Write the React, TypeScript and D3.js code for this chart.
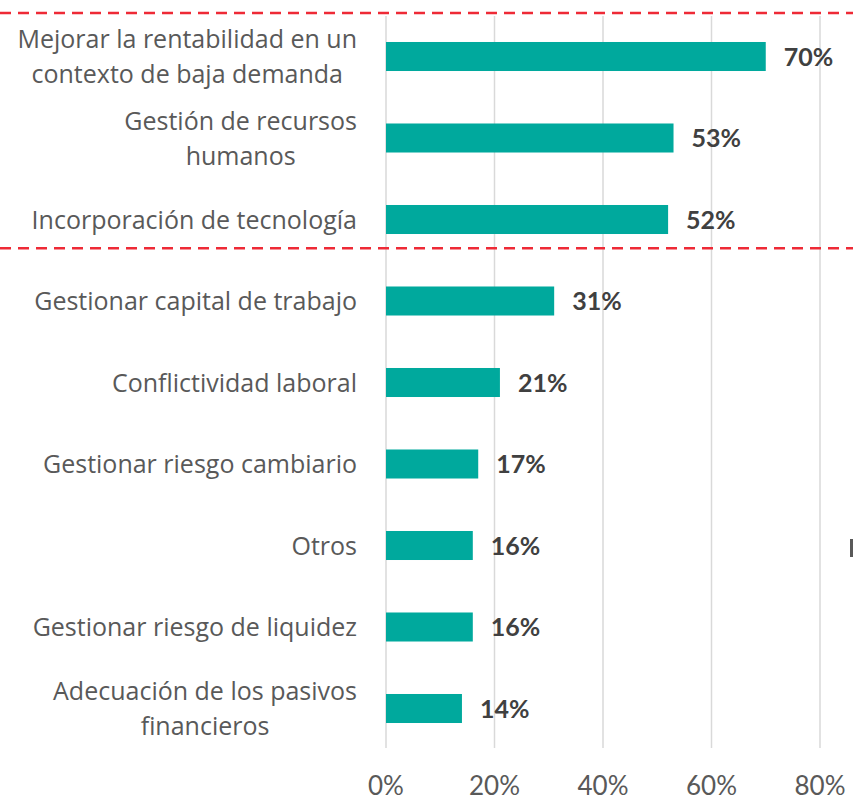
import React from 'react';
import * as d3 from 'd3';

// categories, split into the lines they are drawn on
const categories = [
  ['Mejorar la rentabilidad en un', 'contexto de baja demanda'],
  ['Gestión de recursos', 'humanos'],
  ['Incorporación de tecnología'],
  ['Gestionar capital de trabajo'],
  ['Conflictividad laboral'],
  ['Gestionar riesgo cambiario'],
  ['Otros'],
  ['Gestionar riesgo de liquidez'],
  ['Adecuación de los pasivos', 'financieros'],
];
const values = [0.7, 0.53, 0.52, 0.31, 0.21, 0.17, 0.16, 0.16, 0.14];
const ticks = [0, 0.2, 0.4, 0.6, 0.8];
// red separators sit between these category indexes
const separatorsAfter = [-1, 2];

const W = 853;
const H = 802;
const FONT = 'Lato, "Open Sans", sans-serif';
const LABEL_FONT = '"Open Sans", Lato, sans-serif';
const LABEL_SIZE = 25;

// width of a label line, so wrapped labels can be centred inside their right-aligned block
let ctx: CanvasRenderingContext2D | null = null;
const textWidth = (s: string) => {
  if (!ctx) ctx = document.createElement('canvas').getContext('2d');
  if (!ctx) return s.length * LABEL_SIZE * 0.5;
  ctx.font = `${LABEL_SIZE}px "Open Sans"`;
  return ctx.measureText(s).width;
};

export default function App() {
  const keys = categories.map((c) => c.join(' '));

  const x = d3.scaleLinear().domain([0, 0.8]).range([386, 820]);
  const y = d3
    .scaleBand<string>()
    .domain(keys)
    .range([15.75, 749.25])
    .paddingInner(0.644)
    .paddingOuter(0.322);

  const pct = d3.format('.0%');
  const lineH = 35;
  const labelRight = 357;

  const sepY = (i: number) => {
    if (i < 0) return 13;
    const a = y(keys[i])! + y.bandwidth();
    const b = y(keys[i + 1])!;
    return (a + b) / 2 - 12;
  };

  return (
    <svg width={W} height={H} style={{ position: 'absolute', left: 0, top: 0, background: '#fff' }}>
      {/* gridlines */}
      {ticks.map((t) => (
        <line key={t} x1={x(t)} x2={x(t)} y1={16} y2={748} stroke="#d9d9d9" strokeWidth={1.5} />
      ))}

      {/* bars */}
      {values.map((v, i) => (
        <rect key={keys[i]} x={x(0)} y={y(keys[i])} width={x(v) - x(0)} height={y.bandwidth()} fill="#00a99d" />
      ))}

      {/* value labels */}
      {values.map((v, i) => (
        <text
          key={'v' + i}
          x={x(v) + 18}
          y={y(keys[i])! + y.bandwidth() / 2}
          dy="0.36em"
          fontFamily={FONT}
          fontWeight="bold"
          fontSize={25}
          fill="#404040"
        >
          {pct(v)}
        </text>
      ))}

      {/* category labels */}
      {categories.map((lines, i) => {
        const cy = y(keys[i])! + y.bandwidth() / 2;
        const y0 = cy - ((lines.length - 1) * lineH) / 2;
        const blockW = d3.max(lines, textWidth) ?? 0;
        const cx = labelRight - blockW / 2;
        return (
          <text key={'c' + i} fontFamily={LABEL_FONT} fontSize={LABEL_SIZE} fill="#595959" textAnchor="middle">
            {lines.map((l, j) => (
              <tspan key={j} x={cx} y={y0 + j * lineH} dy="0.36em">
                {l}
              </tspan>
            ))}
          </text>
        );
      })}

      {/* tick labels */}
      {ticks.map((t) => (
        <text key={'t' + t} x={x(t)} y={795} textAnchor="middle" fontFamily={FONT} fontSize={26} fill="#595959">
          {pct(t)}
        </text>
      ))}

      {/* red dashed separators */}
      {separatorsAfter.map((i) => (
        <line key={'s' + i} x1={0} x2={W} y1={sepY(i)} y2={sepY(i)} stroke="#ee2a36" strokeWidth={2.5} strokeDasharray="11 7" />
      ))}

      {/* clipped legend marker at the right edge */}
      <rect x={850} y={539} width={3} height={18} fill="#595959" />
    </svg>
  );
}
